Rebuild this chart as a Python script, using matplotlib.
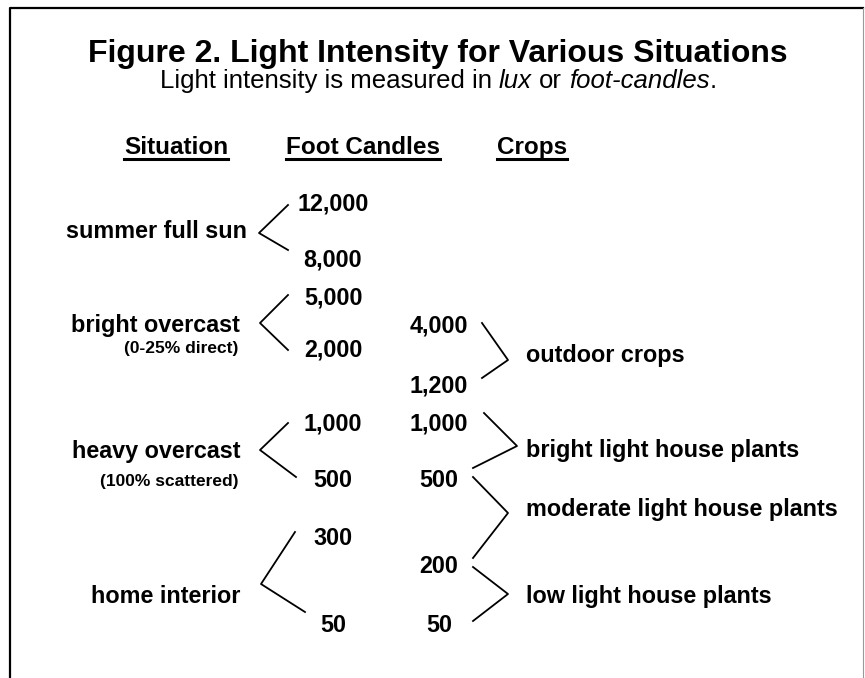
import matplotlib.pyplot as plt

plt.rcParams['font.family'] = ['Liberation Sans', 'DejaVu Sans']

# Данные схемы
situations = ["summer full sun", "bright overcast", "heavy overcast", "home interior"]
situation_notes = ["", "(0-25% direct)", "(100% scattered)", ""]
fc_high = ["12,000", "5,000", "1,000", "300"]
fc_low = ["8,000", "2,000", "500", "50"]
crops = ["outdoor crops", "bright light house plants",
         "moderate light house plants", "low light house plants"]
crop_values = ["4,000", "1,200", "1,000", "500", "200", "50"]
headers = ["Situation", "Foot Candles", "Crops"]

# Положения (пиксели, ось y вниз)
situation_y = [238, 332, 458, 603]
situation_x = [247, 240, 240, 240]
note_y = [None, 353, 486, None]
fc_x = 333
fc_high_y = [210, 305, 430, 545]
fc_low_y = [266, 356, 487, 632]
crop_val_x = 439
crop_val_y = [333, 393, 430, 487, 573, 632]
crop_x = 526
crop_y = [362, 457, 516, 603]
header_x = [176, 363, 532]
header_y = 154

left_brackets = [
    [(288, 205), (259, 233), (288, 250)],
    [(288, 295), (260, 323), (288, 350)],
    [(288, 423), (260, 450), (296, 477)],
    [(295, 532), (261, 584), (305, 612)],
]
right_brackets = [
    [(482, 323), (508, 360), (482, 378)],
    [(484, 413), (517, 446), (473, 468)],
    [(473, 477), (508, 513), (473, 558)],
    [(473, 567), (508, 594), (473, 621)],
]

fig = plt.figure(figsize=(8.65, 6.78), dpi=100)
ax = fig.add_axes([0, 0, 1, 1])
ax.set_xlim(0, 865)
ax.set_ylim(678, 0)
ax.axis('off')

# рамка
ax.plot([10, 10, 863], [678, 8, 8], color='black', lw=1.6, clip_on=False)
ax.plot([863, 863], [8, 678], color='#999999', lw=0.8, clip_on=False)

ax.text(438, 62, "Figure 2. Light Intensity for Various Situations",
        fontsize=23, fontweight='bold', ha='center', va='baseline')

# подзаголовок с курсивом
renderer = fig.canvas.get_renderer()
inv = ax.transData.inverted()


def text_width(t):
    bb = t.get_window_extent(renderer)
    p0 = inv.transform((bb.x0, bb.y0))
    p1 = inv.transform((bb.x1, bb.y1))
    return p1[0] - p0[0], p0, p1


pieces = [("Light intensity is measured in", 'normal', True),
          ("lux", 'italic', True),
          ("or", 'normal', True),
          ("foot-candles", 'italic', False),
          (".", 'normal', False)]
sub_size = 18.5
probe = ax.text(0, 0, "x x", fontsize=sub_size)
w_xx, _, _ = text_width(probe)
probe.remove()
probe = ax.text(0, 0, "xx", fontsize=sub_size)
w_x2, _, _ = text_width(probe)
probe.remove()
space = w_xx - w_x2

texts = []
widths = []
for s, style, sp in pieces:
    t = ax.text(0, 88, s, fontsize=sub_size, style=style, ha='left', va='baseline')
    w, _, _ = text_width(t)
    texts.append(t)
    widths.append(w + (space if sp else 0))
x = 438 - sum(widths) / 2
for t, w in zip(texts, widths):
    t.set_x(x)
    x += w

# заголовки колонок с подчёркиванием
for h, hx in zip(headers, header_x):
    t = ax.text(hx, header_y, h, fontsize=17.5, fontweight='bold',
                ha='center', va='baseline')
    w, p0, p1 = text_width(t)
    ax.plot([hx - w / 2, hx + w / 2], [header_y + 5, header_y + 5],
            color='black', lw=2.2)

body = dict(fontsize=16.8, fontweight='bold', va='baseline')

for i in range(len(situations)):
    ax.text(situation_x[i], situation_y[i], situations[i], ha='right', **body)
    if situation_notes[i]:
        ax.text(238, note_y[i], situation_notes[i], ha='right',
                fontsize=12.5, fontweight='bold', va='baseline')
    ax.text(fc_x, fc_high_y[i], fc_high[i], ha='center', **body)
    ax.text(fc_x, fc_low_y[i], fc_low[i], ha='center', **body)
    xs, ys = zip(*left_brackets[i])
    ax.plot(xs, ys, color='black', lw=1.3)

for v, vy in zip(crop_values, crop_val_y):
    ax.text(crop_val_x, vy, v, ha='center', **body)

for i in range(len(crops)):
    ax.text(crop_x, crop_y[i], crops[i], ha='left', **body)
    xs, ys = zip(*right_brackets[i])
    ax.plot(xs, ys, color='black', lw=1.3)

plt.savefig("out.png", dpi=100)
